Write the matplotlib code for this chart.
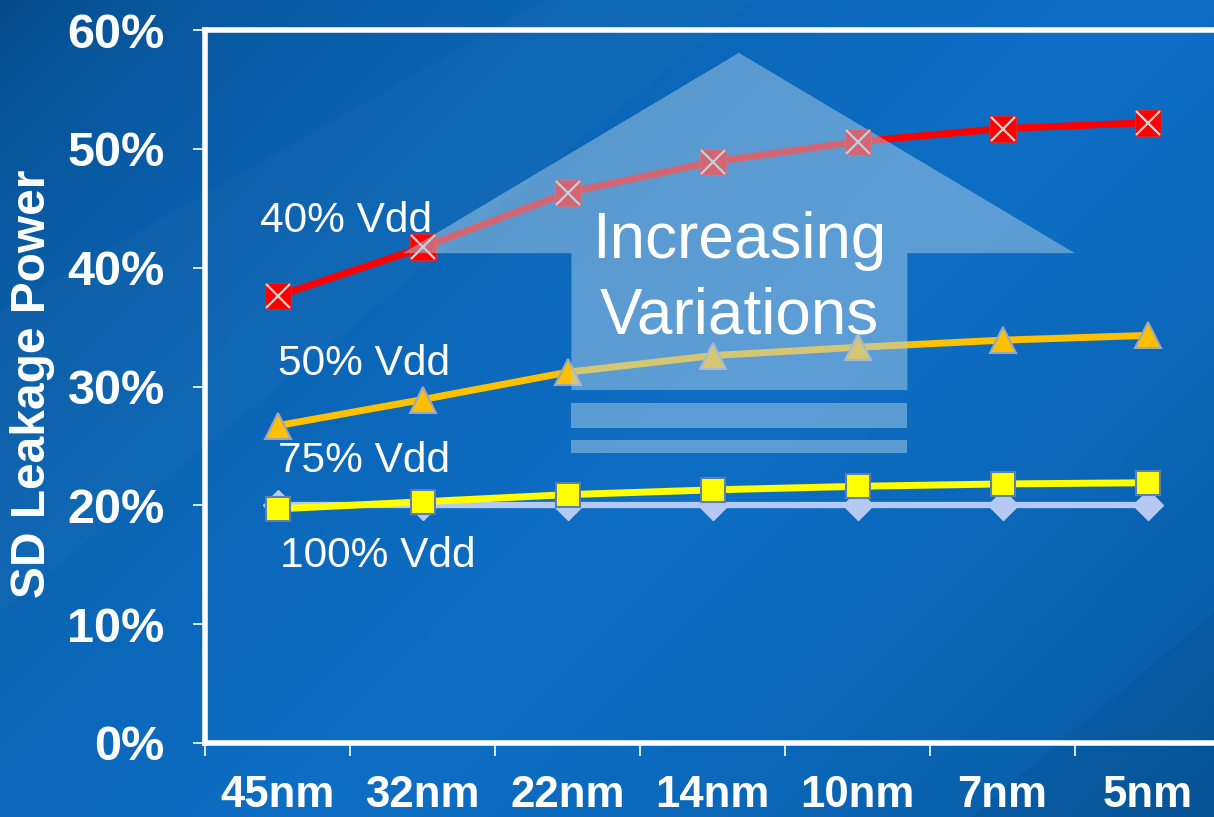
import numpy as np
import matplotlib
matplotlib.use("Agg")
import matplotlib.pyplot as plt
from matplotlib.patches import Polygon, Rectangle

# data
nodes = ["45nm", "32nm", "22nm", "14nm", "10nm", "7nm", "5nm"]
vdd40 = [37.6, 41.7, 46.3, 48.9, 50.6, 51.7, 52.2]
vdd50 = [26.7, 28.9, 31.2, 32.6, 33.3, 33.9, 34.3]
vdd75 = [19.7, 20.3, 20.9, 21.3, 21.6, 21.8, 21.9]
vdd100 = [20.0, 20.0, 20.0, 20.0, 20.0, 20.0, 20.0]
series_labels = ["40% Vdd", "50% Vdd", "75% Vdd", "100% Vdd"]

plt.rcParams['font.family'] = ['Liberation Sans', 'DejaVu Sans']

W, H = 1214, 817
fig = plt.figure(figsize=(W / 100, H / 100), dpi=100)

# blue gradient background
bg = fig.add_axes([0, 0, 1, 1], zorder=-10)
yy, xx = np.mgrid[0:H, 0:W]
u = (xx / W * 0.6 + yy / H * 0.4)
dark = np.array([5, 72, 132]) / 255
mid = np.array([13, 110, 196]) / 255
end = np.array([7, 88, 158]) / 255
t1 = np.clip(u / 0.55, 0, 1)[..., None]
t2 = np.clip((u - 0.55) / 0.45, 0, 1)[..., None]
img = dark + (mid - dark) * np.sqrt(t1)
img = img + (end - mid) * t2 ** 1.5
bg.imshow(img, aspect='auto', extent=[0, 1, 0, 1], origin='upper')
# faint diagonal bands
bg.add_patch(Polygon([[0, 0.25], [0, 0.62], [0.45, 1.0], [0.62, 1.0]], closed=True,
                     color='white', alpha=0.025, lw=0))
bg.add_patch(Polygon([[0.8, 0], [1, 0], [1, 0.25]], closed=True,
                     color='black', alpha=0.05, lw=0))
bg.set_xlim(0, 1)
bg.set_ylim(0, 1)
bg.axis('off')

ax = fig.add_axes([205 / W, 74 / H, 1015 / W, 713 / H])
ax.patch.set_alpha(0)
x = np.arange(len(nodes))

ax.plot(x, vdd100, color='#b6c9f3', lw=4.5, marker='D', ms=15,
        mfc='#b6c9f3', mec='#b6c9f3', zorder=2)
ax.plot(x, vdd75, color='#ffff00', lw=5, marker='s', ms=17,
        mfc='#ffff00', mec='#5a7fb5', mew=1.5, zorder=3)
ax.plot(x, vdd50, color='#ffc000', lw=5, marker='^', ms=19,
        mfc='#ffc000', mec='#98a6c4', mew=1.5, zorder=3)
ax.plot(x, vdd40, color='#ff0000', lw=5, marker='s', ms=18.5,
        mfc='#ff0000', mec='#ff2020', mew=0.5, zorder=3)
ax.plot(x, vdd40, ls='none', marker='x', ms=17, mew=1.6, mec='#d4d4d4', zorder=3)

# translucent arrow
arrow = Polygon([[0.526, 0.968], [0.195, 0.687], [0.361, 0.687], [0.361, 0.495],
                 [0.692, 0.495], [0.692, 0.687], [0.857, 0.687]],
                closed=True, transform=ax.transAxes, facecolor='#aacde6',
                alpha=0.5, lw=0, zorder=4)
ax.add_patch(arrow)
ax.add_patch(Rectangle((0.361, 0.442), 0.331, 0.035, transform=ax.transAxes,
                       facecolor='#aacde6', alpha=0.5, lw=0, zorder=4))
ax.add_patch(Rectangle((0.361, 0.407), 0.331, 0.018, transform=ax.transAxes,
                       facecolor='#aacde6', alpha=0.5, lw=0, zorder=4))
ax.text(0.526, 0.680, "Increasing", transform=ax.transAxes, ha='center',
        va='baseline', color='white', fontsize=46, zorder=5)
ax.text(0.526, 0.575, "Variations", transform=ax.transAxes, ha='center',
        va='baseline', color='white', fontsize=46, zorder=5)

# series labels
label_pos = [(-0.12, 43.0), (0.0, 31.0), (0.0, 22.8), (0.02, 14.8)]
for lab, (lx, ly) in zip(series_labels, label_pos):
    ax.text(lx, ly, lab, ha='left', va='baseline', color='white', fontsize=30.5, zorder=5)

ax.set_xlim(-0.5, len(nodes) - 0.5)
ax.set_ylim(0, 60)
ax.set_yticks(np.arange(0, 61, 10))
ax.set_yticklabels([f"{v}%" for v in range(0, 61, 10)])
ax.set_xticks(np.arange(-0.5, len(nodes), 1.0))
ax.set_xticklabels([])
ax.set_xticks(x, minor=True)
ax.set_xticklabels(nodes, minor=True)
ax.tick_params(axis='y', colors='white', length=9, width=1.2, pad=20,
               labelsize=35)
ax.tick_params(axis='x', which='major', colors='white', length=9, width=1.2, direction='out')
ax.tick_params(axis='x', which='minor', colors='white', length=0, pad=23, labelsize=31.5)
for lab in ax.get_yticklabels() + ax.get_xticklabels(minor=True):
    lab.set_fontweight('bold')
for s in ax.spines.values():
    s.set_color('white')
    s.set_linewidth(4)
ax.spines['right'].set_visible(False)

fig.text(33 / W, 1 - 384 / H, "SD Leakage Power", rotation=90, ha='center', va='center',
         color='white', fontsize=34.5, fontweight='bold')

fig.savefig("out.png", dpi=100)
